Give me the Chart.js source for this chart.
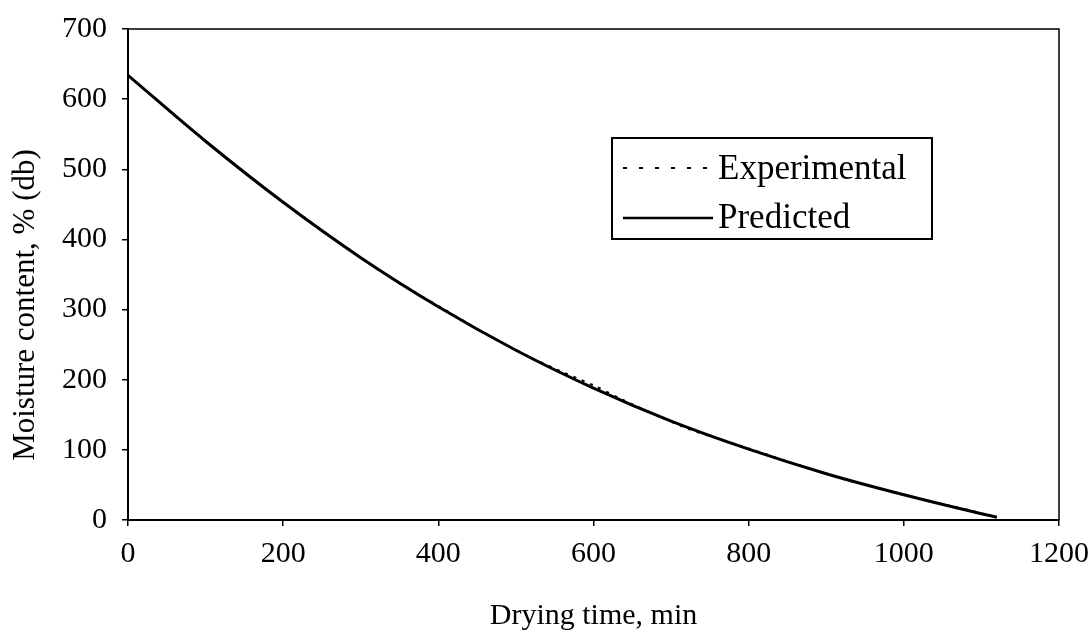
<!DOCTYPE html>
<html>
<head>
<meta charset="utf-8">
<script src="https://cdn.jsdelivr.net/npm/chart.js@4.4.1/dist/chart.umd.min.js"></script>
<style>
  html, body { margin: 0; padding: 0; background: #fff; }
</style>
</head>
<body>
<canvas id="grafico" width="1091" height="636"></canvas>
<script>
const tempoExp = [0, 40, 80, 120, 160, 200, 240, 280, 320, 360, 400, 440, 480, 520, 560, 600, 640, 680, 720, 760, 800, 840, 880, 920, 960, 1000, 1040, 1080, 1120];
const umidadeExp = [634, 596, 558, 522, 487, 453, 421, 389, 359, 331, 305, 279, 254, 231, 211, 192, 170, 150, 131, 116, 102, 87, 73, 59, 47, 36, 25, 15, 4];

const tempoPred = [0, 100, 200, 300, 400, 500, 600, 700, 800, 900, 1000, 1100, 1120];
const umidadePred = [634, 540, 453, 374, 304, 242, 188, 141, 101, 66, 36, 9, 4];

const xTicks = [0, 200, 400, 600, 800, 1000, 1200];
const yTicks = [0, 100, 200, 300, 400, 500, 600, 700];

const legendaNomes = ["Experimental", "Predicted"];
const tituloY = "Moisture content, % (db)";

const fonte = "'Liberation Serif', 'Times New Roman', serif";

// moldura (topo e direita), titulo do eixo y e legenda dentro da area
const molduraPlugin = {
    id: "moldura",
    afterDraw(chart) {
        const { ctx, chartArea: a } = chart;
        ctx.save();
        ctx.strokeStyle = "#000";
        ctx.lineWidth = 1.5;
        ctx.beginPath();
        ctx.moveTo(a.left, a.top);
        ctx.lineTo(a.right, a.top);
        ctx.lineTo(a.right, a.bottom);
        ctx.stroke();

        // titulo do eixo y (um pouco abaixo do centro, como no original)
        ctx.save();
        ctx.translate(26, 305);
        ctx.rotate(-Math.PI / 2);
        ctx.fillStyle = "#000";
        ctx.font = "31px " + fonte;
        ctx.textAlign = "center";
        ctx.textBaseline = "middle";
        ctx.fillText(tituloY, 0, 0);
        ctx.restore();

        // caixa da legenda
        const bx = 612, by = 138, bw = 320, bh = 101;
        ctx.lineWidth = 2;
        ctx.strokeRect(bx, by, bw, bh);

        ctx.lineWidth = 2;
        ctx.setLineDash([4, 12]);
        ctx.beginPath();
        ctx.moveTo(623, 168);
        ctx.lineTo(713, 168);
        ctx.stroke();

        ctx.setLineDash([]);
        ctx.lineWidth = 2.5;
        ctx.beginPath();
        ctx.moveTo(623, 218);
        ctx.lineTo(713, 218);
        ctx.stroke();

        ctx.fillStyle = "#000";
        ctx.font = "35px " + fonte;
        ctx.textBaseline = "middle";
        ctx.textAlign = "left";
        ctx.fillText(legendaNomes[0], 718, 170);
        ctx.fillText(legendaNomes[1], 718, 219);
        ctx.restore();
    }
};

const ctx = document.getElementById("grafico").getContext("2d");

new Chart(ctx, {
    type: "line",
    data: {
        datasets: [
            {
                label: legendaNomes[0],
                data: tempoExp.map((t, i) => ({ x: t, y: umidadeExp[i] })),
                borderColor: "#000",
                borderWidth: 2,
                borderDash: [3, 6],
                pointRadius: 0,
                tension: 0.3,
            },
            {
                label: legendaNomes[1],
                data: tempoPred.map((t, i) => ({ x: t, y: umidadePred[i] })),
                borderColor: "#000",
                borderWidth: 3,
                pointRadius: 0,
                cubicInterpolationMode: "monotone",
            },
        ],
    },
    options: {
        responsive: false,
        animation: false,
        layout: { padding: { left: 0, top: 29, right: 32, bottom: 0 } },
        plugins: {
            legend: { display: false },
            tooltip: { enabled: false },
        },
        scales: {
            x: {
                type: "linear",
                min: 0,
                max: 1200,
                afterBuildTicks: s => { s.ticks = xTicks.map(v => ({ value: v })); },
                afterFit: s => { s.height = 116; s.paddingLeft = 0; s.paddingRight = 0; },
                grid: { drawOnChartArea: false, drawTicks: true, tickLength: 6, color: "#000", lineWidth: 1.5 },
                border: { display: true, color: "#000", width: 2 },
                ticks: {
                    color: "#000",
                    padding: 10,
                    maxRotation: 0,
                    font: { family: fonte, size: 30 },
                    callback: v => String(v),
                },
                title: {
                    display: true,
                    text: "Drying time, min",
                    color: "#000",
                    padding: { top: 0, bottom: 2 },
                    font: { family: fonte, size: 30 },
                },
            },
            y: {
                min: 0,
                max: 700,
                afterBuildTicks: s => { s.ticks = yTicks.map(v => ({ value: v })); },
                afterFit: s => { s.width = 128; s.paddingTop = 0; s.paddingBottom = 0; },
                grid: { drawOnChartArea: false, drawTicks: true, tickLength: 6, color: "#000", lineWidth: 1.5 },
                border: { display: true, color: "#000", width: 2 },
                ticks: {
                    color: "#000",
                    padding: 15,
                    font: { family: fonte, size: 30 },
                    callback: v => String(v),
                },
                title: { display: false },
            },
        },
    },
    plugins: [molduraPlugin],
});
</script>
</body>
</html>
